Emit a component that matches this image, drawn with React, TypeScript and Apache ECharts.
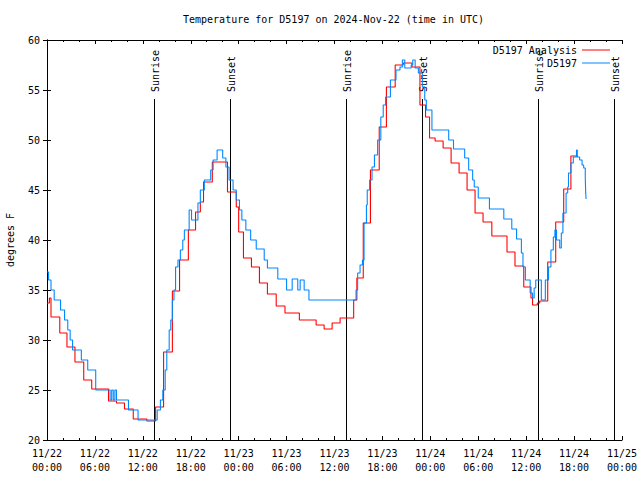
import React, { useEffect, useRef } from "react";
import * as echarts from "echarts";

// Hours since 2024-11-22 00:00 UTC
const titleText = "Temperature for D5197 on 2024-Nov-22 (time in UTC)";
const yAxisName = "degrees F";
const seriesNames = ["D5197 Analysis", "D5197"];

const redHours = [0, 0.3, 0.5, 1.6, 2.5, 3.5, 4.6, 5.6, 7.7, 8.7, 9.7, 10.8, 12.5, 13.6, 14.6, 15.7, 16.6, 17.7, 18.6, 19.2, 19.6, 20.7, 22.6, 23.7, 24.0, 24.6, 25.6, 26.6, 27.6, 28.7, 29.8, 31.6, 33.7, 34.7, 35.7, 36.7, 38.4, 38.8, 39.6, 40.5, 41.6, 42.5, 43.6, 44.6, 45.7, 46.7, 47.4, 47.9, 48.6, 49.6, 50.6, 51.6, 52.6, 53.6, 54.6, 55.7, 57.6, 58.6, 59.7, 60.6, 60.8, 61.4, 61.7, 62.7, 63.7, 64.7, 65.6, 66.5];
const redTemps = [33.7, 34.2, 32.3, 30.7, 29.3, 27.8, 26.0, 25.1, 23.9, 23.7, 23.1, 22.1, 21.9, 23.3, 28.8, 34.9, 38.0, 41.0, 42.8, 43.8, 45.8, 47.8, 44.8, 43.3, 40.8, 38.2, 37.3, 35.7, 34.6, 33.4, 32.7, 32.0, 31.5, 31.1, 31.7, 32.2, 34.0, 36.2, 41.7, 47.0, 51.3, 55.3, 57.5, 57.7, 57.3, 53.5, 52.3, 50.2, 49.9, 49.2, 47.7, 46.7, 45.0, 42.7, 41.8, 40.4, 38.8, 37.4, 35.3, 34.2, 33.5, 33.7, 33.9, 37.8, 41.8, 45.1, 48.4, 48.4];

const blueHours = [0, 0.2, 0.5, 0.9, 1.7, 2.2, 2.6, 2.9, 3.2, 4.3, 5.1, 6.1, 7.9, 8.1, 8.3, 8.5, 8.7, 10.2, 11.4, 13.6, 13.8, 14.2, 14.5, 14.8, 15.0, 15.3, 15.5, 15.7, 15.9, 16.1, 16.4, 16.7, 17.0, 17.2, 17.8, 18.1, 18.9, 19.2, 19.7, 20.5, 20.8, 21.3, 22.0, 22.4, 22.8, 23.3, 23.7, 24.1, 24.4, 24.9, 25.5, 26.2, 27.2, 27.6, 28.9, 30.0, 30.7, 31.4, 31.7, 32.2, 32.8, 38.6, 38.7, 38.9, 39.2, 39.5, 39.7, 40.0, 40.1, 40.4, 40.7, 41.0, 41.4, 41.8, 42.1, 42.4, 43.0, 43.7, 44.2, 44.5, 44.8, 45.6, 45.8, 46.1, 46.5, 47.0, 47.3, 47.5, 48.2, 50.3, 50.9, 52.3, 52.8, 53.3, 53.5, 54.0, 55.4, 57.2, 58.2, 58.8, 59.4, 59.6, 59.9, 60.5, 60.8, 61.0, 61.2, 61.9, 62.4, 62.8, 63.1, 63.4, 63.6, 63.8, 64.2, 64.4, 64.6, 65.0, 65.2, 65.3, 65.6, 65.9, 66.3, 66.4, 66.7, 67.0, 67.2, 67.4, 67.45, 67.5];
const blueTemps = [36.8, 36.0, 35.0, 34.0, 33.0, 32.0, 31.0, 30.0, 29.0, 28.0, 27.0, 25.0, 24.0, 25.0, 24.0, 25.0, 24.0, 23.0, 22.0, 22.0, 23.0, 24.0, 25.0, 27.0, 29.0, 31.0, 32.0, 34.0, 35.0, 37.3, 38.0, 39.0, 40.0, 41.0, 43.0, 42.0, 43.7, 45.0, 46.0, 47.0, 48.0, 49.0, 48.2, 47.3, 46.0, 45.0, 44.0, 43.0, 42.0, 41.0, 40.0, 39.1, 38.0, 37.2, 36.1, 35.0, 36.1, 35.0, 36.0, 35.0, 34.0, 34.0, 35.0, 36.7, 37.5, 38.0, 41.7, 43.5, 45.0, 46.0, 47.3, 48.5, 50.0, 52.3, 53.5, 54.3, 56.0, 57.0, 57.3, 58.0, 57.2, 57.5, 58.0, 57.2, 56.7, 55.3, 54.0, 53.0, 51.0, 50.0, 49.1, 48.2, 47.0, 46.0, 45.3, 44.2, 43.1, 42.1, 41.1, 40.1, 38.7, 37.3, 36.0, 34.7, 34.2, 35.2, 36.0, 34.0, 36.0, 37.3, 39.0, 40.3, 41.0, 40.0, 39.2, 40.7, 42.7, 44.7, 45.3, 46.7, 47.7, 48.3, 49.0, 48.3, 48.0, 47.5, 47.2, 46.3, 44.8, 44.1];

const sunHours = [13.46, 22.96, 37.44, 46.96, 61.48, 71.0];
const sunLabels = ["Sunrise", "Sunset", "Sunrise", "Sunset", "Sunrise", "Sunset"];
const sunLineTop = 54.1;

const xMin = 0;
const xMax = 72;
const xStep = 6;
const yMin = 20;
const yMax = 60;
const yStep = 5;

const FONT = "DejaVu Sans Mono";

function xLabel(v: number): string {
  const day = 22 + Math.floor(v / 24);
  const h = v % 24;
  return `11/${day}\n${String(h).padStart(2, "0")}:00`;
}

export default function App() {
  const ref = useRef<HTMLDivElement>(null);
  useEffect(() => {
    if (!ref.current) return;
    const chart = echarts.init(ref.current, null, { renderer: "svg" });
    const tickCommon = {
      axisLine: { show: true, lineStyle: { color: "#000", width: 1 } },
      axisTick: { show: true, inside: true, length: 4, lineStyle: { color: "#000" } },
      splitLine: { show: false },
    };
    const redData = redHours.map((h, i) => [h, redTemps[i]]);
    const blueData = blueHours.map((h, i) => [h, blueTemps[i]]);
    const sunData = sunHours.map((h) => [h, sunLineTop]);
    const legendCommon = {
      right: 30,
      padding: 0,
      align: "right",
      icon: "rect",
      itemWidth: 28,
      itemHeight: 1,
      selectedMode: false,
      textStyle: { fontFamily: FONT, fontSize: 10, color: "#000" },
    };
    chart.setOption({
      animation: false,
      backgroundColor: "#fff",
      title: {
        text: titleText,
        left: 183,
        top: 14,
        padding: 0,
        textStyle: { fontFamily: FONT, fontSize: 10, fontWeight: "normal", color: "#000" },
      },
      legend: [
        { ...legendCommon, data: [seriesNames[0]], top: 45 },
        { ...legendCommon, data: [seriesNames[1]], top: 58 },
      ],
      grid: { left: 47, right: 18, top: 40, bottom: 40, outerBoundsMode: "none", containLabel: false },
      xAxis: [
        {
          type: "value",
          position: "bottom",
          min: xMin,
          max: xMax,
          interval: xStep,
          ...tickCommon,
          minorTick: { show: true, splitNumber: 3, length: 2, lineStyle: { color: "#000" } },
          minorSplitLine: { show: false },
          axisLabel: {
            formatter: xLabel,
            fontFamily: FONT,
            fontSize: 10,
            color: "#000",
            lineHeight: 14,
            margin: 6,
          },
        },
        {
          type: "value",
          position: "top",
          min: xMin,
          max: xMax,
          interval: xStep,
          ...tickCommon,
          minorTick: { show: true, splitNumber: 3, length: 2, lineStyle: { color: "#000" } },
          minorSplitLine: { show: false },
          axisLabel: { show: false },
        },
      ],
      yAxis: [
        {
          type: "value",
          position: "left",
          min: yMin,
          max: yMax,
          interval: yStep,
          ...tickCommon,
          name: yAxisName,
          nameLocation: "middle",
          nameRotate: 90,
          nameGap: 32,
          nameTextStyle: { fontFamily: FONT, fontSize: 10, color: "#000" },
          axisLabel: { fontFamily: FONT, fontSize: 10, color: "#000", margin: 7 },
        },
        {
          type: "value",
          position: "right",
          min: yMin,
          max: yMax,
          interval: yStep,
          ...tickCommon,
          axisLabel: { show: false },
        },
      ],
      series: [
        {
          type: "custom",
          name: "sun",
          silent: true,
          clip: false,
          data: sunData,
          encode: { x: 0, y: 1 },
          renderItem: (params: any, api: any) => {
            const t = api.value(0);
            const top = api.coord([t, api.value(1)]);
            const bot = api.coord([t, yMin]);
            const x = Math.round(top[0]) + 0.5;
            return {
              type: "group",
              children: [
                {
                  type: "line",
                  shape: { x1: x, y1: top[1], x2: x, y2: bot[1] },
                  style: { stroke: "#000", lineWidth: 1 },
                },
                {
                  type: "text",
                  x: x + 1,
                  y: top[1] - 7,
                  rotation: Math.PI / 2,
                  style: {
                    text: sunLabels[params.dataIndex],
                    font: `10px "${FONT}"`,
                    fill: "#000",
                    align: "left",
                    verticalAlign: "middle",
                  },
                },
              ],
            };
          },
        },
        {
          type: "line",
          name: seriesNames[0],
          data: redData,
          step: "end",
          symbol: "none",
          lineStyle: { color: "#ff0000", width: 1.1 },
          itemStyle: { color: "#ff0000" },
        },
        {
          type: "line",
          name: seriesNames[1],
          data: blueData,
          step: "end",
          symbol: "none",
          lineStyle: { color: "#0088ff", width: 1.1 },
          itemStyle: { color: "#0088ff" },
        },
      ],
    });
    return () => chart.dispose();
  }, []);
  return (
    <div
      ref={ref}
      style={{ position: "absolute", left: 0, top: 0, width: 640, height: 480 }}
    />
  );
}
